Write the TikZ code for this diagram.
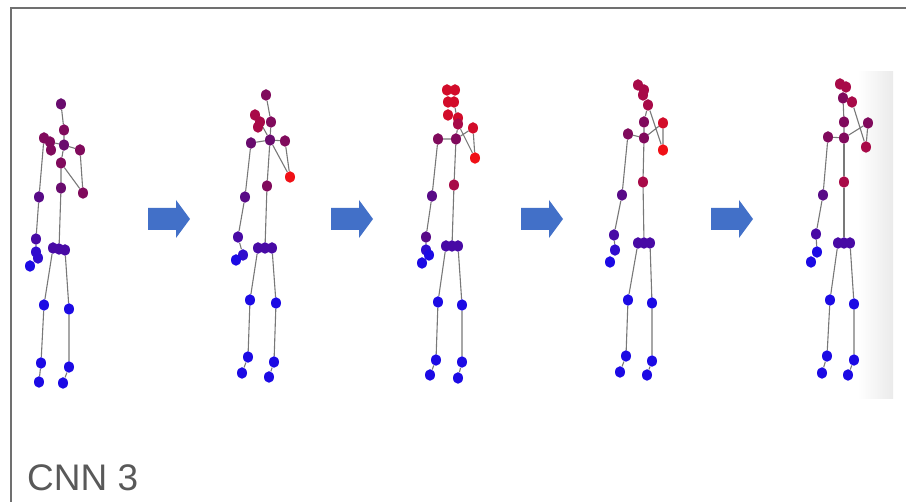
\documentclass[tikz,border=0pt]{standalone}
\usepackage{fontspec}
\setmainfont{Liberation Sans}
\usetikzlibrary{backgrounds,shapes.geometric}

\definecolor{framegray}{RGB}{112,112,112}
\definecolor{textgray}{RGB}{89,89,89}
\definecolor{bonegray}{RGB}{120,120,120}
\definecolor{arrowblue}{RGB}{66,112,200}
\definecolor{blu}{RGB}{28,10,228}
\definecolor{blutwo}{RGB}{48,12,205}
\definecolor{purone}{RGB}{72,10,165}
\definecolor{purtwo}{RGB}{88,10,135}
\definecolor{plum}{RGB}{105,12,110}
\definecolor{mag}{RGB}{128,10,92}
\definecolor{crim}{RGB}{168,10,72}
\definecolor{redone}{RGB}{210,12,42}
\definecolor{redtwo}{RGB}{240,16,22}

\tikzset{
  jt/.style={ellipse, inner sep=0pt, minimum width=10pt, minimum height=11.5pt, draw=none},
  bone/.style={draw=bonegray, line width=1.1pt},
  fwd/.pic={\fill[arrowblue] (0,-11) -- (28,-11) -- (28,-19) -- (42,0) -- (28,19) -- (28,11) -- (0,11) -- cycle;}
}
% one joint of a skeleton: name, x, y, colour
\newcommand\jt[4]{\node[jt,fill=#4] (#1) at (#2,#3) {};}

\begin{document}
\begin{tikzpicture}[x=1pt,y=-1pt]
\useasboundingbox (0,0) rectangle (906,502);

% frame
\draw[framegray, line width=2pt] (11,502) -- (11,8) -- (906,8);

% light edge on the right of the image strip
\begin{scope}[on background layer]
\shade[left color=white, right color=black!8] (858,72) rectangle (893,399);
\end{scope}

% ---------- skeleton 1 ----------
\jt{a-hd}{61}{104}{plum}
\jt{a-nk}{64}{130}{mag}
\jt{a-c1}{44}{138}{mag}
\jt{a-c2}{50}{142}{mag}
\jt{a-c3}{51}{150}{mag}
\jt{a-ss}{64}{145}{plum}
\jt{a-rs}{80}{150}{mag}
\jt{a-sm}{61}{163}{mag}
\jt{a-sp}{61}{188}{plum}
\jt{a-rh}{83}{193}{mag}
\jt{a-le}{39}{197}{purtwo}
\jt{a-w1}{36}{239}{purone}
\jt{a-w2}{36}{252}{blutwo}
\jt{a-w3}{38}{258}{blutwo}
\jt{a-w4}{30}{266}{blu}
\jt{a-h1}{53}{248}{purone}
\jt{a-h2}{59}{249}{purone}
\jt{a-h3}{65}{250}{purone}
\jt{a-kl}{44}{305}{blu}
\jt{a-kr}{69}{309}{blu}
\jt{a-al}{41}{363}{blu}
\jt{a-ar}{69}{367}{blu}
\jt{a-fl}{39}{382}{blu}
\jt{a-fr}{63}{383}{blu}
\begin{scope}[on background layer]
\draw[bone] (a-hd) -- (a-nk) -- (a-ss) -- (a-rs) -- (a-rh) -- (a-sm);
\draw[bone] (a-c2) -- (a-ss) -- (a-sm) -- (a-sp) -- (a-h2);
\draw[bone] (a-c1) -- (a-le) -- (a-w1) -- (a-w2);
\draw[bone] (a-h1) -- (a-kl) -- (a-al) -- (a-fl);
\draw[bone] (a-h3) -- (a-kr) -- (a-ar) -- (a-fr);
\end{scope}

\pic at (148,219) {fwd};

% ---------- skeleton 2 ----------
\jt{b-hd}{266}{95}{mag}
\jt{b-c1}{255}{115}{crim}
\jt{b-c2}{260}{122}{crim}
\jt{b-c3}{258}{127}{crim}
\jt{b-c4}{271}{122}{mag}
\jt{b-nk}{270}{140}{plum}
\jt{b-ls}{251}{143}{plum}
\jt{b-rs}{285}{141}{mag}
\jt{b-rh}{290}{177}{redtwo}
\jt{b-sp}{267}{186}{mag}
\jt{b-le}{245}{197}{purtwo}
\jt{b-w1}{238}{237}{purone}
\jt{b-w2}{243}{255}{blutwo}
\jt{b-w3}{236}{260}{blu}
\jt{b-h1}{258}{248}{purone}
\jt{b-h2}{265}{248}{purone}
\jt{b-h3}{272}{248}{purone}
\jt{b-kl}{250}{300}{blu}
\jt{b-kr}{276}{303}{blu}
\jt{b-al}{248}{357}{blu}
\jt{b-ar}{274}{362}{blu}
\jt{b-fl}{242}{373}{blu}
\jt{b-fr}{269}{377}{blu}
\begin{scope}[on background layer]
\draw[bone] (b-hd) -- (b-c4) -- (b-nk) -- (b-rs) -- (b-rh) -- (b-nk);
\draw[bone] (b-c2) -- (b-nk) -- (b-ls) -- (b-le) -- (b-w1) -- (b-w2);
\draw[bone] (b-nk) -- (b-sp) -- (b-h2);
\draw[bone] (b-h1) -- (b-kl) -- (b-al) -- (b-fl);
\draw[bone] (b-h3) -- (b-kr) -- (b-ar) -- (b-fr);
\end{scope}

\pic at (331,219) {fwd};

% ---------- skeleton 3 ----------
\jt{c-x1}{447}{90}{redone}
\jt{c-x2}{455}{90}{redone}
\jt{c-x3}{448}{102}{redone}
\jt{c-x4}{454}{102}{redone}
\jt{c-x5}{448}{115}{redone}
\jt{c-x6}{458}{118}{redone}
\jt{c-x7}{458}{124}{crim}
\jt{c-nk}{456}{139}{mag}
\jt{c-ls}{438}{139}{mag}
\jt{c-rs}{473}{128}{redone}
\jt{c-rh}{475}{158}{redtwo}
\jt{c-sp}{454}{185}{crim}
\jt{c-le}{432}{196}{purtwo}
\jt{c-w1}{426}{237}{purtwo}
\jt{c-w2}{426}{250}{blutwo}
\jt{c-w3}{429}{255}{blu}
\jt{c-w4}{422}{263}{blu}
\jt{c-h1}{446}{246}{purone}
\jt{c-h2}{452}{246}{purone}
\jt{c-h3}{458}{246}{purone}
\jt{c-kl}{438}{302}{blu}
\jt{c-kr}{462}{305}{blu}
\jt{c-al}{436}{360}{blu}
\jt{c-ar}{462}{362}{blu}
\jt{c-fl}{430}{375}{blu}
\jt{c-fr}{458}{378}{blu}
\begin{scope}[on background layer]
\draw[bone] (c-x4) -- (c-x7) -- (c-nk) -- (c-rs) -- (c-rh) -- (c-x7);
\draw[bone] (c-nk) -- (c-ls) -- (c-le) -- (c-w1) -- (c-w2);
\draw[bone] (c-nk) -- (c-sp) -- (c-h2);
\draw[bone] (c-h1) -- (c-kl) -- (c-al) -- (c-fl);
\draw[bone] (c-h3) -- (c-kr) -- (c-ar) -- (c-fr);
\end{scope}

\pic at (521,219) {fwd};

% ---------- skeleton 4 ----------
\jt{d-x1}{638}{85}{crim}
\jt{d-x2}{644}{90}{crim}
\jt{d-x3}{643}{95}{crim}
\jt{d-x4}{648}{105}{crim}
\jt{d-x5}{644}{122}{mag}
\jt{d-nk}{644}{138}{mag}
\jt{d-ls}{628}{134}{mag}
\jt{d-rs}{663}{123}{redone}
\jt{d-rh}{663}{150}{redtwo}
\jt{d-sp}{643}{182}{crim}
\jt{d-le}{622}{195}{purtwo}
\jt{d-w1}{614}{235}{purone}
\jt{d-w2}{615}{250}{blutwo}
\jt{d-w3}{610}{262}{blu}
\jt{d-h1}{638}{243}{purone}
\jt{d-h2}{644}{243}{purone}
\jt{d-h3}{650}{243}{purone}
\jt{d-kl}{628}{300}{blu}
\jt{d-kr}{652}{303}{blu}
\jt{d-al}{626}{356}{blu}
\jt{d-ar}{652}{361}{blu}
\jt{d-fl}{620}{372}{blu}
\jt{d-fr}{647}{375}{blu}
\begin{scope}[on background layer]
\draw[bone] (d-x4) -- (d-x5) -- (d-nk) -- (d-rs) -- (d-rh) -- (d-x4);
\draw[bone] (d-nk) -- (d-ls) -- (d-le) -- (d-w1) -- (d-w2);
\draw[bone] (d-nk) -- (d-sp) -- (d-h2);
\draw[bone] (d-h1) -- (d-kl) -- (d-al) -- (d-fl);
\draw[bone] (d-h3) -- (d-kr) -- (d-ar) -- (d-fr);
\end{scope}

\pic at (711,219) {fwd};

% ---------- skeleton 5 ----------
\jt{e-x1}{840}{84}{crim}
\jt{e-x2}{846}{87}{crim}
\jt{e-x3}{843}{98}{mag}
\jt{e-x4}{852}{102}{crim}
\jt{e-x5}{844}{122}{mag}
\jt{e-nk}{844}{138}{mag}
\jt{e-ls}{828}{137}{mag}
\jt{e-rs}{868}{123}{mag}
\jt{e-rh}{866}{147}{crim}
\jt{e-sp}{844}{182}{crim}
\jt{e-le}{823}{195}{purtwo}
\jt{e-w1}{816}{234}{purone}
\jt{e-w2}{817}{252}{blu}
\jt{e-w3}{811}{262}{blu}
\jt{e-h1}{838}{243}{purone}
\jt{e-h2}{844}{243}{purone}
\jt{e-h3}{850}{243}{purone}
\jt{e-kl}{830}{300}{blu}
\jt{e-kr}{854}{304}{blu}
\jt{e-al}{827}{356}{blu}
\jt{e-ar}{854}{360}{blu}
\jt{e-fl}{822}{373}{blu}
\jt{e-fr}{848}{375}{blu}
\begin{scope}[on background layer]
\draw[bone] (e-x3) -- (e-x5) -- (e-nk) -- (e-rs) -- (e-rh) -- (e-x4);
\draw[bone] (e-nk) -- (e-ls) -- (e-le) -- (e-w1) -- (e-w2);
\draw[bone] (e-nk) -- (e-sp) -- (e-h2);
\draw[bone] (e-h1) -- (e-kl) -- (e-al) -- (e-fl);
\draw[bone] (e-h3) -- (e-kr) -- (e-ar) -- (e-fr);
\end{scope}

% caption
\node[anchor=base west, inner sep=0pt, text=textgray,
      font=\fontsize{37}{40}\selectfont] (cap) at (27,491) {CNN 3};
\end{tikzpicture}
\end{document}
